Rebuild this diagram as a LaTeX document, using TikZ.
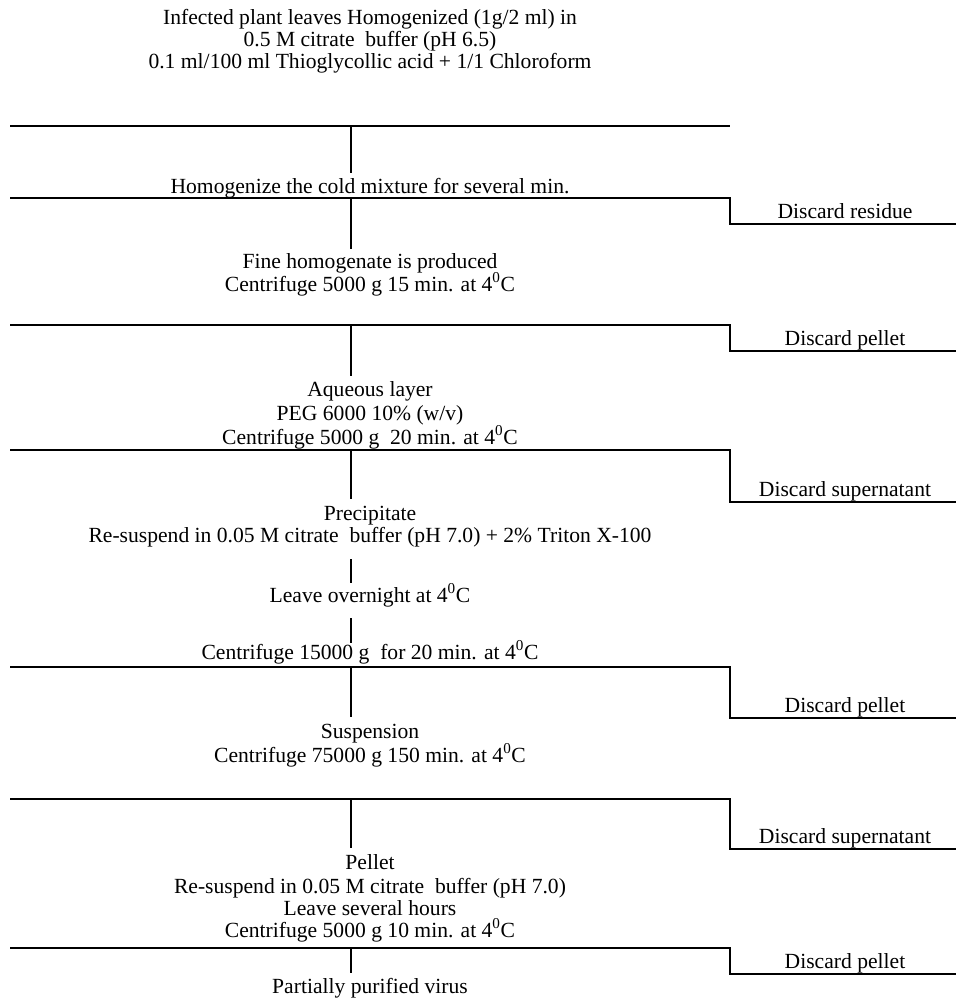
\documentclass[tikz,border=0pt]{standalone}
\usepackage{fontspec}
\setmainfont{Liberation Serif}
\newcommand{\degC}{4\textsuperscript{0}C}
\begin{document}
\begin{tikzpicture}[x=0.75pt,y=-0.75pt,
  bar/.style={line width=1.5pt, line join=miter},
  stem/.style={line width=1.2pt},
  lbl/.style={anchor=base, inner sep=0pt, font=\fontsize{16.2}{18}\selectfont}]
\useasboundingbox (0,0) rectangle (956,1000);
\fill[white] (0,0) rectangle (956,1000);

% ---- texts (main column) ----
\node[lbl] (t1a) at (370,24) {Infected plant leaves Homogenized (1g/2 ml) in};
\node[lbl] (t1b) at (370,46) {0.5 M citrate\ \ buffer (pH 6.5)};
\node[lbl] (t1c) at (370,68) {0.1 ml/100 ml Thioglycollic acid + 1/1 Chloroform};
\node[lbl] (t2)  at (370,193) {Homogenize the cold mixture for several min.};
\node[lbl] (t3a) at (370,268) {Fine homogenate is produced};
\node[lbl] (t3b) at (370,291) {Centrifuge 5000 g 15 min. at \degC};
\node[lbl] (t4a) at (370,396) {Aqueous layer};
\node[lbl] (t4b) at (370,420) {PEG 6000 10\% (w/v)};
\node[lbl] (t4c) at (370,444) {Centrifuge 5000 g\ \ 20 min. at \degC};
\node[lbl] (t5a) at (370,520) {Precipitate};
\node[lbl] (t5b) at (370,542) {Re-suspend in 0.05 M citrate\ \ buffer (pH 7.0) + 2\% Triton X-100};
\node[lbl] (t6)  at (370,602) {Leave overnight at \degC};
\node[lbl] (t7)  at (370,659) {Centrifuge 15000 g\ \ for 20 min. at \degC};
\node[lbl] (t8a) at (370,738) {Suspension};
\node[lbl] (t8b) at (370,762) {Centrifuge 75000 g 150 min. at \degC};
\node[lbl] (t9a) at (370,869) {Pellet};
\node[lbl] (t9b) at (370,893) {Re-suspend in 0.05 M citrate\ \ buffer (pH 7.0)};
\node[lbl] (t9c) at (370,915) {Leave several hours};
\node[lbl] (t9d) at (370,937) {Centrifuge 5000 g 10 min. at \degC};
\node[lbl] (t10) at (370,993) {Partially purified virus};

% ---- discard labels ----
\node[lbl] (d2) at (845,218) {Discard residue};
\node[lbl] (d3) at (845,345) {Discard pellet};
\node[lbl] (d4) at (845,496) {Discard supernatant};
\node[lbl] (d5) at (845,712) {Discard pellet};
\node[lbl] (d6) at (845,843) {Discard supernatant};
\node[lbl] (d7) at (845,968) {Discard pellet};

% ---- bars ----
\coordinate (b1l) at (10,126); \coordinate (b1r) at (730,126);
\draw[bar] (b1l) -- (b1r);

\coordinate (b2l) at (10,198); \coordinate (b2r) at (730,198);
\coordinate (b2c) at (730,224); \coordinate (b2e) at (956,224);
\draw[bar] (b2l) -- (b2r) -- (b2c) -- (b2e);

\coordinate (b3l) at (10,325); \coordinate (b3r) at (730,325);
\coordinate (b3c) at (730,351); \coordinate (b3e) at (956,351);
\draw[bar] (b3l) -- (b3r) -- (b3c) -- (b3e);

\coordinate (b4l) at (10,450); \coordinate (b4r) at (730,450);
\coordinate (b4c) at (730,502); \coordinate (b4e) at (956,502);
\draw[bar] (b4l) -- (b4r) -- (b4c) -- (b4e);

\coordinate (b5l) at (10,667); \coordinate (b5r) at (730,667);
\coordinate (b5c) at (730,718); \coordinate (b5e) at (956,718);
\draw[bar] (b5l) -- (b5r) -- (b5c) -- (b5e);

\coordinate (b6l) at (10,799); \coordinate (b6r) at (730,799);
\coordinate (b6c) at (730,849); \coordinate (b6e) at (956,849);
\draw[bar] (b6l) -- (b6r) -- (b6c) -- (b6e);

\coordinate (b7l) at (10,948); \coordinate (b7r) at (730,948);
\coordinate (b7c) at (730,974); \coordinate (b7e) at (956,974);
\draw[bar] (b7l) -- (b7r) -- (b7c) -- (b7e);

% ---- stems ----
\coordinate (s1a) at (351,126); \coordinate (s1b) at (351,173);
\coordinate (s2a) at (351,198); \coordinate (s2b) at (351,249);
\coordinate (s3a) at (351,325); \coordinate (s3b) at (351,376);
\coordinate (s4a) at (351,450); \coordinate (s4b) at (351,499);
\coordinate (s5a) at (351,559); \coordinate (s5b) at (351,583);
\coordinate (s6a) at (351,618); \coordinate (s6b) at (351,643);
\coordinate (s7a) at (351,667); \coordinate (s7b) at (351,717);
\coordinate (s8a) at (351,799); \coordinate (s8b) at (351,848);
\coordinate (s9a) at (351,948); \coordinate (s9b) at (351,973);
\foreach \s in {1,...,9} { \draw[stem] (s\s a) -- (s\s b); }
\end{tikzpicture}
\end{document}
